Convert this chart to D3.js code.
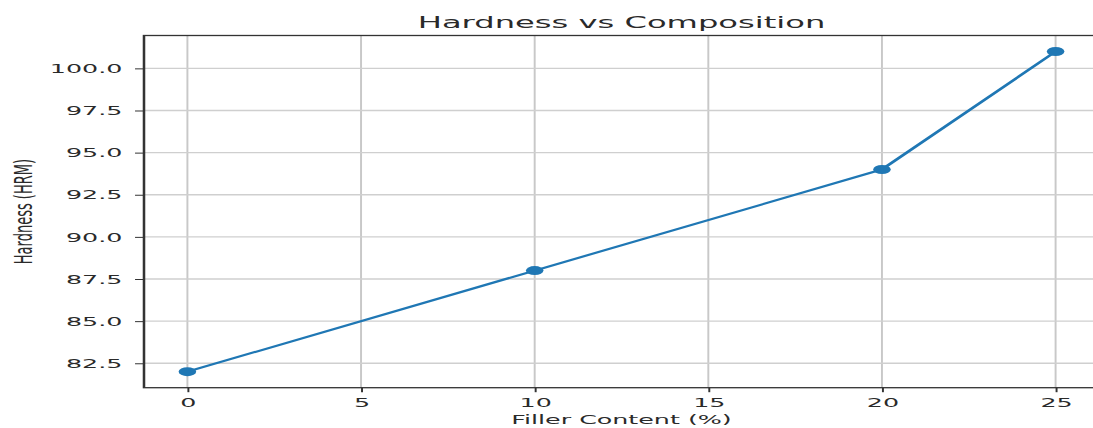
<!DOCTYPE html>
<html>
<head>
<meta charset="utf-8">
<script src="https://cdn.jsdelivr.net/npm/d3@7"></script>
<style>
  body { margin: 0; background: #fff; }
  svg { display: block; font-family: "DejaVu Sans", sans-serif; }
</style>
</head>
<body>
<div id="chart"></div>
<script>
// chart values
var fillerContent = [0, 10, 20, 25];
var hardness = [82, 88, 94, 101];
var xTickValues = [0, 5, 10, 15, 20, 25];
var yTickValues = [82.5, 85.0, 87.5, 90.0, 92.5, 95.0, 97.5, 100.0];
var chartTitle = "Hardness vs Composition";
var xLabel = "Filler Content (%)";
var yLabel = "Hardness (HRM)";

var width = 1093, height = 428;
// the source picture is a figure stretched sideways, so draw in a narrow
// space and scale the whole group horizontally
var sx = 1.95;
var plot = {left: 144 / sx, right: 1099 / sx, top: 35.5, bottom: 387.7};

var points = fillerContent.map(function(d, i){ return {x: d, y: hardness[i]}; });

var x = d3.scaleLinear().domain([-1.25, 26.25]).range([plot.left, plot.right]);
var y = d3.scaleLinear().domain([81.05, 101.95]).range([plot.bottom, plot.top]);

var svg = d3.select("#chart").append("svg")
    .attr("width", width)
    .attr("height", height);

var g = svg.append("g").attr("transform", "scale(" + sx + ",1)");

// grid
g.append("g").selectAll("line.vgrid")
    .data(xTickValues).enter().append("line")
    .attr("x1", function(d){ return x(d); })
    .attr("x2", function(d){ return x(d); })
    .attr("y1", plot.top).attr("y2", plot.bottom)
    .attr("stroke", "#c8c8c8").attr("stroke-width", 1);

g.append("g").selectAll("line.hgrid")
    .data(yTickValues).enter().append("line")
    .attr("x1", plot.left).attr("x2", plot.right)
    .attr("y1", function(d){ return y(d); })
    .attr("y2", function(d){ return y(d); })
    .attr("stroke", "#cfcfcf").attr("stroke-width", 1.3);

// axes
var xAxis = d3.axisBottom(x).tickValues(xTickValues).tickSize(4.5).tickPadding(6)
    .tickFormat(d3.format("d"));
var yAxis = d3.axisLeft(y).tickValues(yTickValues).tickSize(4.6).tickPadding(6.5)
    .tickFormat(d3.format(".1f"));

var gx = g.append("g").attr("transform", "translate(0," + plot.bottom + ")").call(xAxis);
var gy = g.append("g").attr("transform", "translate(" + plot.left + ",0)").call(yAxis);

[gx, gy].forEach(function(a){
    a.select(".domain").remove();
    a.selectAll(".tick line").attr("stroke", "#333").attr("stroke-width", 1);
    a.selectAll(".tick text")
        .attr("fill", "#2a2a2a")
        .style("font-size", "13px")
        .style("font-family", "DejaVu Sans, sans-serif");
});

// frame
g.append("rect")
    .attr("x", plot.left).attr("y", plot.top)
    .attr("width", plot.right - plot.left)
    .attr("height", plot.bottom - plot.top)
    .attr("fill", "none")
    .attr("stroke", "#333")
    .attr("stroke-width", 1.3);

// series
var line = d3.line()
    .x(function(d){ return x(d.x); })
    .y(function(d){ return y(d.y); });

g.append("path")
    .datum(points)
    .attr("d", line)
    .attr("fill", "none")
    .attr("stroke", "#1f77b4")
    .attr("stroke-width", 2);

g.selectAll("circle.pt")
    .data(points).enter().append("circle")
    .attr("cx", function(d){ return x(d.x); })
    .attr("cy", function(d){ return y(d.y); })
    .attr("r", 4.5)
    .attr("fill", "#1f77b4");

// labels
g.append("text")
    .attr("x", (plot.left + plot.right) / 2)
    .attr("y", 28.4)
    .attr("text-anchor", "middle")
    .attr("fill", "#2a2a2a")
    .style("font-size", "16.5px")
    .text(chartTitle);

g.append("text")
    .attr("x", (plot.left + plot.right) / 2)
    .attr("y", 424)
    .attr("text-anchor", "middle")
    .attr("fill", "#2a2a2a")
    .style("font-size", "13px")
    .text(xLabel);

g.append("text")
    .attr("transform", "translate(" + (32 / sx) + "," + ((plot.top + plot.bottom) / 2) + ") rotate(-90)")
    .attr("text-anchor", "middle")
    .attr("fill", "#2a2a2a")
    .style("font-size", "13px")
    .text(yLabel);
</script>
</body>
</html>
